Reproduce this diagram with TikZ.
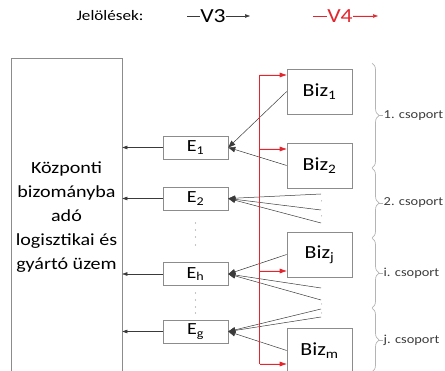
\documentclass[tikz,border=0pt]{standalone}
\usepackage{fontspec}
\setmainfont{Carlito}[FakeStretch=1.18]
\usetikzlibrary{arrows.meta,decorations.pathreplacing,calc}
\definecolor{vred}{HTML}{E3262E}
\definecolor{boxgray}{HTML}{8C8C8C}
\definecolor{linegray}{HTML}{3A3A3A}
\definecolor{bracegray}{HTML}{B4B4B4}
\definecolor{txtgray}{HTML}{3C3C3C}
\begin{document}
\begin{tikzpicture}[x=1pt,y=-1pt,
  bigbox/.style={draw=boxgray, line width=0.6pt, minimum width=111pt, minimum height=330pt, inner sep=0pt},
  bigtext/.style={align=center, inner sep=0pt, text=black, font=\fontsize{17}{24}\selectfont},
  ebox/.style={draw=boxgray, line width=0.6pt, minimum width=65pt, minimum height=23pt, inner sep=0pt, font=\fontsize{17}{18}\selectfont},
  bizbox/.style={draw=boxgray, line width=0.6pt, minimum width=65pt, minimum height=45pt, inner sep=0pt, font=\fontsize{18.5}{20}\selectfont},
  conn/.style={draw=linegray, line width=0.5pt, -{Triangle[length=7pt,width=5.5pt]}},
  plain/.style={draw=linegray, line width=0.5pt},
  toplant/.style={draw=linegray, line width=0.5pt, -{Triangle[length=5pt,width=3.5pt]}},
  redline/.style={draw=vred, line width=1pt},
  redarrow/.style={draw=vred, fill=vred, line width=0.8pt, -{Triangle[length=7pt,width=4.5pt]}},
  grpbrace/.style={draw=bracegray, line width=0.7pt, decorate, decoration={brace, amplitude=7pt}},
  grplabel/.style={anchor=west, inner sep=0.5pt, text=txtgray, font=\fontsize{12.2}{14}\selectfont},
  legtext/.style={inner sep=0pt, font=\fontsize{14}{16}\selectfont},
  dot/.style={fill=boxgray}
]
\clip (0,0) rectangle (445,371);

% legend
\node[legtext, font=\fontsize{14.5}{16}\selectfont] (jel) at (110,16) {Jelölések:};
\node[legtext, font=\fontsize{20}{22}\selectfont] (v3) at (213,16) {V3};
\coordinate (v3a) at (187,16);
\coordinate (v3b) at (250,16);
\draw[plain] (v3a) -- (v3.west);
\draw[toplant] (v3.east) -- (v3b);
\node[legtext, text=vred, font=\fontsize{20}{22}\selectfont] (v4) at (340,16) {V4};
\coordinate (v4a) at (313,16);
\coordinate (v4b) at (378,16);
\draw[draw=vred, line width=0.6pt] (v4a) -- (v4.west);
\draw[draw=vred, fill=vred, line width=0.6pt, -{Triangle[length=5pt,width=3.5pt]}] (v4.east) -- (v4b);

% central plant
\node[bigbox] (central) at (66.5,223) {};
\node[bigtext] (ctext) at (66.5,217) {Központi\\bizományba\\adó\\logisztikai és\\gyártó üzem};

% E boxes
\node[ebox] (e1) at (195.5,147.5) {E\textsubscript{1}};
\node[ebox] (e2) at (195.5,198.5) {E\textsubscript{2}};
\node[ebox] (eh) at (195.5,274) {E\textsubscript{h}};
\node[ebox] (eg) at (195.5,331.5) {E\textsubscript{g}};

\foreach \y in {223,230,237,245} \fill[dot] (195.5,\y) circle (0.55);
\foreach \y in {293,300,307,313} \fill[dot] (195.5,\y) circle (0.55);

\foreach \e in {e1,e2,eh,eg} \draw[toplant] (\e.west) -- (\e.west -| central.east);

% Biz boxes
\node[bizbox] (b1) at (319.5,91.5) {Biz\textsubscript{1}};
\node[bizbox] (b2) at (319.5,165.5) {Biz\textsubscript{2}};
\node[bizbox] (bj) at (319.5,254.5) {Biz\textsubscript{j}};
\node[bizbox] (bm) at (319.5,350.5) {Biz\textsubscript{m}};

% V3 flows to E boxes
\draw[conn] (b1.west) -- (e1.east);
\draw[conn] (b2.west) -- (e1.east);

\coordinate (p21) at (321,194);
\coordinate (p22) at (321,210);
\coordinate (p23) at (321,223);
\draw[conn] (p21) -- (e2.east);
\draw[conn] (p22) -- (e2.east);
\draw[conn] (p23) -- (e2.east);
\foreach \y in {201,216} \fill[dot] (321.5,\y) circle (0.5);

\draw[conn] (bj.west) -- (eh.east);
\coordinate (ph1) at (321,288);
\coordinate (ph2) at (321,300);
\draw[conn] (ph1) -- (eh.east);
\draw[conn] (ph2) -- (eh.east);

\coordinate (pg1) at (321,309);
\coordinate (pg2) at (321,317);
\draw[conn] (pg1) -- (eg.east);
\draw[conn] (pg2) -- (eg.east);
\draw[conn] (bm.west) -- (eg.east);
\foreach \y in {304,313} \fill[dot] (321.5,\y) circle (0.5);

% red V4 distribution
\coordinate (r1) at (259.5,75);
\coordinate (r2) at (259.5,149);
\coordinate (r3) at (259.5,271);
\coordinate (r4) at (259.5,364);
\draw[redline] (r1) -- (r4);
\draw[redarrow] (r1) -- (r1 -| b1.west);
\draw[redarrow] (r2) -- (r2 -| b2.west);
\draw[redarrow] (r3) -- (r3 -| bj.west);
\draw[redarrow] (r4) -- (r4 -| bm.west);

% group braces
\draw[grpbrace] (372,63) -- (372,168);
\draw[grpbrace] (372,168) -- (372,238);
\draw[grpbrace] (372,238) -- (372,308);
\draw[grpbrace] (372,308) -- (372,372);
\node[grplabel] (g1) at (383,115.5) {1. csoport};
\node[grplabel] (g2) at (383,203) {2. csoport};
\node[grplabel] (gi) at (383,273) {i. csoport};
\node[grplabel] (gj) at (383,340) {j. csoport};
\foreach \g/\y in {g1/115.5,g2/203,gi/273,gj/340} \draw[draw=bracegray, line width=0.7pt] (379,\y) -- (\g.west);
\end{tikzpicture}
\end{document}
